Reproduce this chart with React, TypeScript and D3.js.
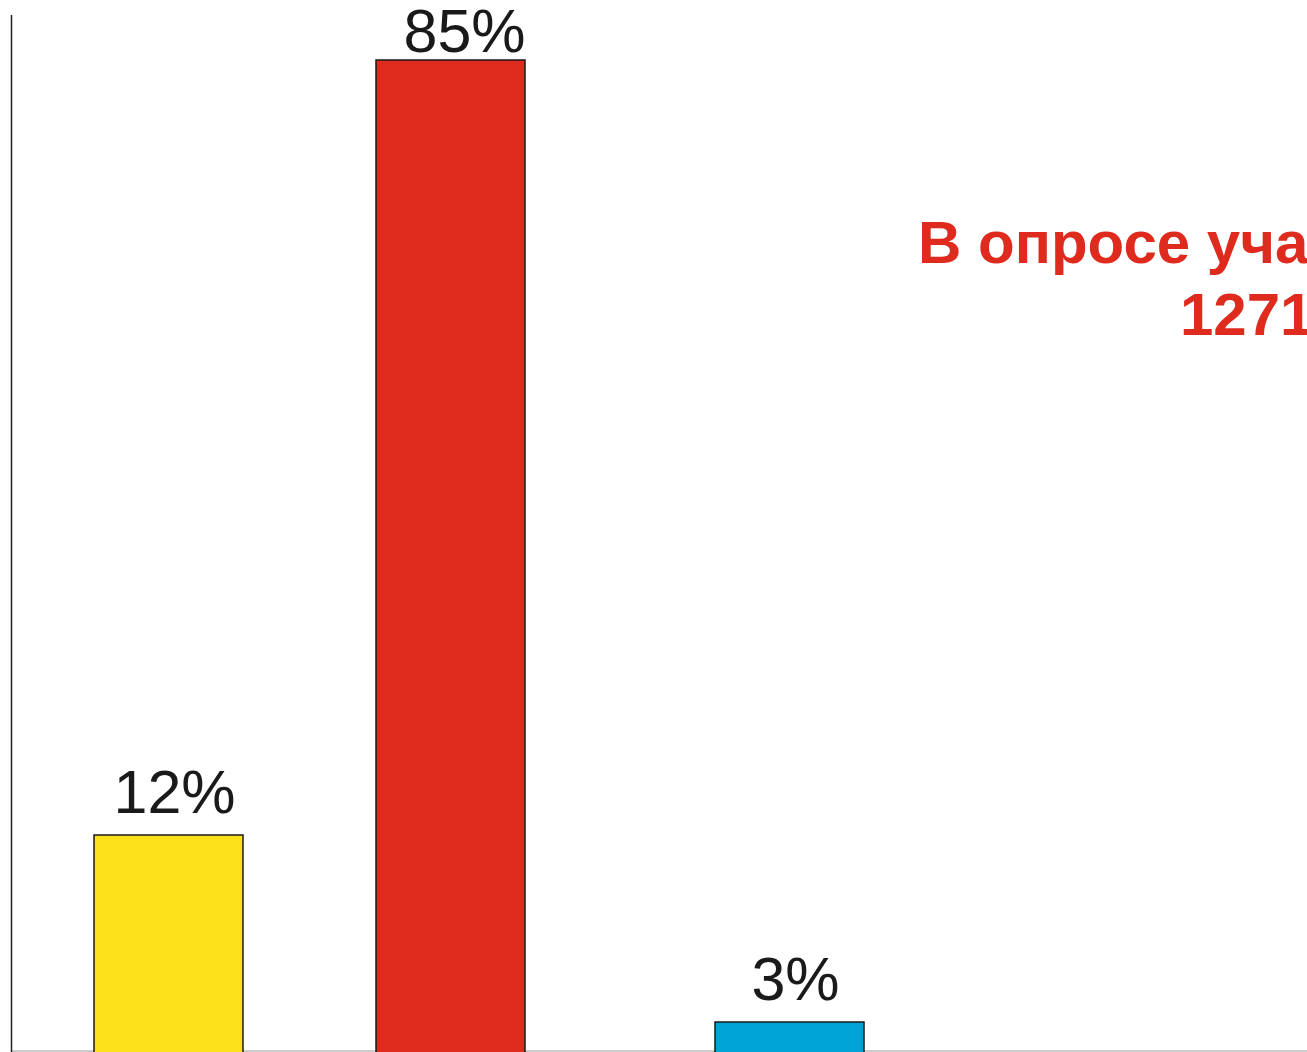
import React, { useEffect, useRef } from 'react';
import * as d3 from 'd3';

// Survey shares (%), left to right
const categories: string[] = ['A', 'B', 'C'];
const values: number[] = [12, 85, 3];
const colors: string[] = ['#FBE01A', '#DE2B1E', '#00A3D6'];
const noteLines: string[] = ['В опросе участвовали', '1271 человек'];

const W = 1307;
const H = 1052;

const App: React.FC = () => {
  const svgRef = useRef<SVGSVGElement>(null);

  useEffect(() => {
    if (!svgRef.current) return;
    const svg = d3.select(svgRef.current);
    svg.selectAll('*').remove();

    const baseY = 1051;

    // the original's value axis is not linear, so use a piecewise scale
    const yScale = d3.scaleLinear()
      .domain([0, 3, 12, 85])
      .range([baseY, 1022, 835, 60]);

    // bars are not evenly spaced in the original either
    const xScale = d3.scaleOrdinal<string, number>()
      .domain(categories)
      .range([94, 376, 715]);
    const barW = 149;

    // baseline
    svg.append('line')
      .attr('x1', 11).attr('x2', W)
      .attr('y1', baseY).attr('y2', baseY)
      .attr('stroke', '#bbbbbb')
      .attr('stroke-width', 1.5);

    // value axis
    svg.append('line')
      .attr('x1', 11.5).attr('x2', 11.5)
      .attr('y1', 15).attr('y2', H)
      .attr('stroke', '#222222')
      .attr('stroke-width', 1.5);

    const data = categories.map((c, i) => ({ c, v: values[i], color: colors[i] }));

    svg.selectAll('.bar')
      .data(data)
      .enter()
      .append('rect')
      .attr('class', 'bar')
      .attr('x', d => xScale(d.c))
      .attr('y', d => yScale(d.v))
      .attr('width', barW)
      .attr('height', d => baseY - yScale(d.v) + 2)
      .attr('fill', d => d.color)
      .attr('stroke', '#1a1a1a')
      .attr('stroke-width', 1.5);

    // labels sit above the bars; the tallest one is squeezed under the top edge
    const labelY = (v: number) => Math.max(yScale(v) - 22, 52);
    const clamped = (v: number) => yScale(v) - 22 < 52;

    svg.selectAll('.val')
      .data(data)
      .enter()
      .append('text')
      .attr('class', 'val')
      .attr('x', d => xScale(d.c) + barW / 2 + (clamped(d.v) ? 14 : 6))
      .attr('y', d => labelY(d.v))
      .attr('text-anchor', 'middle')
      .attr('font-family', 'Liberation Sans, Arial, sans-serif')
      .attr('font-size', '61px')
      .attr('fill', '#1a1a1a')
      .text(d => `${d.v}%`);

    // survey note (cut off at the right edge, as in the original)
    svg.append('text')
      .attr('x', 918)
      .attr('y', 263)
      .attr('font-family', 'Liberation Sans, Arial, sans-serif')
      .attr('font-size', '60px')
      .attr('font-weight', 'bold')
      .attr('fill', '#DE2B1E')
      .text(noteLines[0]);

    svg.append('text')
      .attr('x', 1180)
      .attr('y', 335)
      .attr('font-family', 'Liberation Sans, Arial, sans-serif')
      .attr('font-size', '60px')
      .attr('font-weight', 'bold')
      .attr('fill', '#DE2B1E')
      .text(noteLines[1]);
  }, []);

  return (
    <svg
      ref={svgRef}
      width={W}
      height={H}
      style={{ position: 'absolute', left: 0, top: 0, background: '#ffffff' }}
    />
  );
};

export default App;
